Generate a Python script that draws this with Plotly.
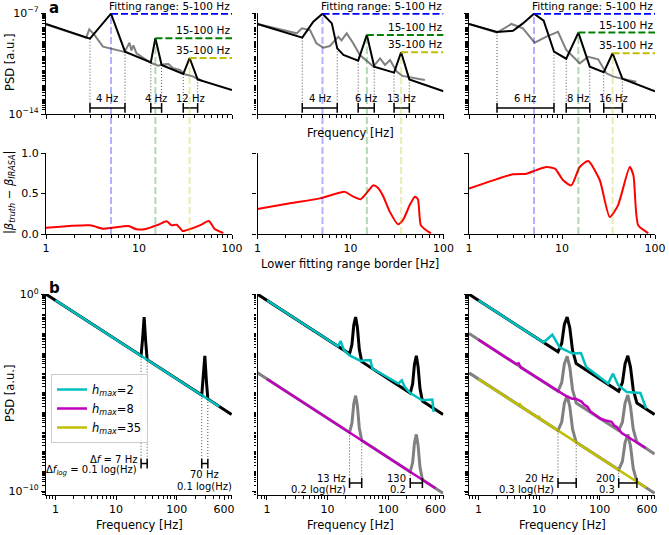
import math

import plotly.graph_objects as go
from plotly.subplots import make_subplots

FONT = "DejaVu Sans"
W, H = 669, 535

# ---- panel a, top row: PSD (black) and IRASA fractal estimate (gray), values are log10(PSD)
A_BLACK_F = [
    [1, 2.97, 5, 7.07, 13.4, 15, 17.5, 29.9, 35, 42.7, 100],
    [1, 3.03, 3.98, 5, 6.3, 7.2, 8.4, 12.1, 15, 18, 29.4, 35, 42.9, 100],
    [1, 2.0, 2.97, 3.8, 5, 6.35, 8.2, 11.1, 15, 19.9, 28.1, 35, 44.6, 100],
]
A_BLACK_P = [
    [-7.76, -8.78, -7.05, -9.68, -10.42, -8.75, -10.6, -11.23, -10.12, -11.6, -12.34],
    [-7.76, -8.71, -7.6, -7.05, -7.72, -9.45, -9.91, -10.3, -8.52, -10.72, -11.13, -9.72, -11.6, -12.42],
    [-7.76, -8.32, -8.23, -7.72, -7.05, -7.53, -9.68, -10.17, -8.36, -10.72, -11.11, -9.79, -11.55, -12.42],
]
A_GRAY_F = [
    [1, 2.7, 2.92, 3.3, 4.1, 5.1, 7.0, 7.9, 8.3, 8.7, 9.4, 13.4, 16, 18.5, 20.7, 23.3, 27.5, 31, 36.9, 41.5, 48],
    [1, 2.64, 3.0, 3.67, 4.3, 5.1, 6.0, 7.4, 8.0, 9.1, 10.7, 12.6, 15.3, 17.6, 20.8, 23.5, 26.6, 31.4, 36, 47.5, 63],
    [1, 2.0, 2.86, 3.8, 5.08, 6.8, 9.06, 11.1, 13.7, 15.5, 19.1, 24.5, 30, 36, 43.6, 63],
]
A_GRAY_P = [
    [-7.8, -8.72, -8.13, -8.5, -9.33, -9.5, -9.7, -9.06, -9.6, -9.25, -9.8, -10.45, -10.65, -10.55, -10.53,
     -10.83, -10.95, -11.25, -11.36, -11.52, -11.7],
    [-7.76, -8.41, -8.06, -8.18, -9.1, -9.4, -9.29, -8.64, -8.9, -8.41, -9.1, -9.91, -10.37, -10.72, -10.14,
     -10.6, -10.26, -11.06, -11.36, -11.52, -11.64],
    [-7.76, -8.36, -7.76, -8.06, -9.06, -8.64, -8.3, -9.56, -10.14, -10.49, -10.03, -10.21, -11.18, -11.41,
     -11.55, -11.76],
]
PEAK_F = [5, 15, 35]
PEAK_TOP = [[-7.05, -8.75, -10.12], [-7.05, -8.52, -9.72], [-7.05, -8.36, -9.79]]
FIT_TXT = ["Fitting range: 5-100 Hz", "15-100 Hz", "35-100 Hz"]
FIT_COLORS = ["#0000ff", "#008000", "#bfbf00"]
FIT_LIGHT = ["rgba(0,0,255,0.3)", "rgba(0,128,0,0.3)", "rgba(191,191,0,0.3)"]

BR_LO = [[2.97, 13.4, 29.9], [3.03, 12.1, 29.4], [2.0, 11.1, 28.1]]
BR_LO_P = [[-8.78, -10.42, -11.23], [-8.71, -10.3, -11.13], [-8.32, -10.17, -11.11]]
BR_HI = [[7.07, 17.5, 42.7], [7.2, 18, 42.9], [8.2, 19.9, 44.6]]
BR_HI_P = [[-9.68, -10.6, -11.6], [-9.45, -10.72, -11.6], [-9.68, -10.72, -11.55]]
BR_TXT = [["4 Hz", "4 Hz", "12 Hz"], ["4 Hz", "6 Hz", "13 Hz"], ["6 Hz", "8 Hz", "16 Hz"]]
BR_Y = -13.58
BR_TXT_Y = -12.95

# ---- panel a, middle row: |beta_truth - beta_IRASA| vs lower fitting border
RED_F = [
    [1, 2.97, 4.1, 5.2, 7.7, 9.4, 12.1, 16.1, 19.9, 22.4, 25.4, 29.4, 32, 45, 55.6, 58, 64.6, 80.7],
    [1, 2.24, 4.7, 8.7, 10.4, 12.9, 15.0, 17.5, 19.7, 22.4, 26.6, 32.4, 36.6, 43.5, 49.3, 53, 57, 64.7, 73.3],
    [1, 2.97, 4.14, 5.2, 6.8, 8.4, 10.3, 12.6, 15.5, 19.1, 25.4, 32.6, 40, 53.5, 58.6, 66, 84.6],
]
RED_V = [
    [0.078, 0.107, 0.066, 0.078, 0.099, 0.058, 0.066, 0.115, 0.156, 0.107, 0.115, 0.037, 0.045, 0.107, 0.16,
     0.148, 0.066, 0.012],
    [0.31, 0.38, 0.44, 0.52, 0.47, 0.43, 0.51, 0.60, 0.57, 0.47, 0.27, 0.12, 0.17, 0.36, 0.46, 0.43, 0.11,
     0.05, 0.01],
    [0.56, 0.737, 0.745, 0.786, 0.827, 0.807, 0.663, 0.6, 0.827, 0.9, 0.67, 0.21, 0.354, 0.827, 0.724, 0.107,
     0.012],
]

# ---- panel b: PSD with peaks at ~29 Hz and ~290 Hz, peak widths 0.1 / 0.2 / 0.3 log(Hz)
B_BLACK_F = [
    [0.7, 25.8, 27.3, 29.0, 30.7, 32.5, 258, 273, 290, 307, 325, 800],
    [0.7, 23.0, 25.2, 27.0, 29.0, 31.0, 33.3, 36.5, 230, 252, 270, 290, 310, 333, 365, 800],
    [0.7, 20.5, 23.6, 26.1, 29.0, 32.1, 35.6, 40.9, 205, 236, 261, 290, 321, 356, 409, 800],
]
B_BLACK_P = [
    [0.01, -3.12, -2.27, -1.15, -2.37, -3.32, -5.12, -4.27, -3.12, -4.37, -5.32, -6.11],
    [0.01, -3.02, -2.55, -1.56, -1.15, -1.68, -2.79, -3.42, -5.02, -4.55, -3.56, -3.12, -3.68, -4.79, -5.42,
     -6.11],
    [0.01, -2.92, -2.49, -1.53, -1.15, -1.71, -2.85, -3.52, -4.92, -4.49, -3.53, -3.12, -3.71, -4.85, -5.52,
     -6.11],
]
# offset copies of the spectrum (gray), one per IRASA run below the top one
B_GRAY = [
    [],
    [([0.7, 23.0, 25.2, 27.0, 29.0, 31.0, 33.3, 36.5, 230, 252, 270, 290, 310, 333, 365, 800],
      [-3.99, -7.02, -6.55, -5.56, -5.15, -5.68, -6.79, -7.42, -9.02, -8.55, -7.56, -7.12, -7.68, -8.79, -9.42,
       -10.11])],
    [([0.7, 20.5, 23.6, 26.1, 29.0, 32.1, 35.6, 40.9, 205, 236, 261, 290, 321, 356, 409, 800],
      [-1.99, -4.92, -4.49, -3.53, -3.15, -3.71, -4.85, -5.52, -6.92, -6.49, -5.53, -5.12, -5.71, -6.85, -7.52,
       -8.11]),
     ([0.7, 20.5, 23.6, 26.1, 29.0, 32.1, 35.6, 40.9, 205, 236, 261, 290, 321, 356, 409, 800],
      [-3.99, -6.92, -6.49, -5.53, -5.15, -5.71, -6.85, -7.52, -8.92, -8.49, -7.53, -7.12, -7.71, -8.85, -9.52,
       -10.11])],
]
# IRASA fractal estimates for h_max = 2 (cyan), 8 (magenta), 35 (yellow)
H_NAMES = ["<i>h</i><sub><i>max</i></sub>=2", "<i>h</i><sub><i>max</i></sub>=8",
           "<i>h</i><sub><i>max</i></sub>=35"]
H_COLORS = ["#00bfbf", "#bf00bf", "#bfbf00"]
B_IRASA = [
    [(0, [1, 500], [-0.3, -5.7])],
    [(0, [1, 14.8, 16.4, 18.6, 23, 35, 42, 51, 54.5, 147, 167, 186, 230, 360, 531, 560],
      [-0.3, -2.64, -2.37, -2.84, -3.1, -3.38, -3.35, -3.35, -3.77, -4.53, -4.37, -4.7, -5.02, -5.38, -5.35,
       -5.97]),
     (1, [1, 600], [-4.3, -9.86])],
    [(0, [1, 11.8, 16.5, 21.9, 35.6, 49, 59.7, 137, 165, 202, 279, 467, 580],
      [-0.3, -2.44, -2.05, -2.7, -3.01, -2.98, -3.69, -4.53, -4.03, -4.62, -4.96, -5.01, -5.8]),
     (1, [1, 4.2, 4.6, 5.0, 28, 35, 40, 45, 50, 55, 63, 70, 100, 121, 140, 156, 175, 190, 230, 570],
      [-2.3, -3.55, -3.5, -3.72, -5.17, -5.3, -5.3, -5.4, -5.45, -5.6, -5.72, -5.95, -6.3, -6.4, -6.45, -6.48,
       -6.68, -6.73, -7.05, -7.81]),
     (2, [1, 4.5, 4.8, 5.1, 9.5, 10, 10.5, 580],
      [-4.3, -5.61, -5.58, -5.72, -6.26, -6.22, -6.34, -9.83])],
]
# brackets marking peak widths: (lo, hi, log PSD where the dotted guide starts at lo, at hi)
B_BR = [
    [(25.8, 32.5, -3.12, -3.32), (258, 325, -5.12, -5.32)],
    [(23.0, 36.5, -7.02, -7.42), (230, 365, -9.02, -9.42)],
    [(20.5, 40.9, -6.92, -7.52), (205, 409, -8.92, -9.52)],
]
B_BR_Y = [-8.6, -9.59, -9.59]
# (x Hz, log PSD, text, anchor)
B_TXT = [
    [(25.8, -8.38, "Δ<i>f</i> = 7 Hz", "right"),
     (25.8, -8.93, "Δ<i>f</i><sub><i>log</i></sub> = 0.1 log(Hz)", "right"),
     (290, -9.14, "70 Hz", "center"),
     (290, -9.75, "0.1 log(Hz)", "center")],
    [(23.0, -9.34, "13 Hz", "right"), (23.0, -9.9, "0.2 log(Hz)", "right"),
     (230, -9.34, "130", "right"), (230, -9.9, "0.2", "right")],
    [(20.5, -9.34, "20 Hz", "right"), (20.5, -9.9, "0.3 log(Hz)", "right"),
     (205, -9.34, "200", "right"), (205, -9.9, "0.3", "right")],
]

A_XMAJOR = [1, 10, 100]
A_XMINOR = [m * 10 ** e for e in (0, 1) for m in range(2, 10)]
B_XMAJOR = [1, 10, 100, 600]
B_XMINOR = [m * 10 ** e for e in (-1, 0, 1, 2) for m in range(2, 10) if 0.7 <= m * 10 ** e <= 800]
A_YMINOR = [m * 10.0 ** e for e in range(-14, -7) for m in range(1, 10) if (e, m) != (-14, 1)]
B_YMINOR = [m * 10.0 ** e for e in range(-11, 0) for m in range(1, 10) if (e, m) != (-10, 1)]

# subplot frames in pixels: columns (left, right), rows (top, bottom)
COL_PX = [(46, 232), (257.5, 443.5), (469, 655)]
ROW_PX = [(13, 114), (153, 234), (294, 495)]


def px_x(x):
    return x / W


def px_y(y):
    return 1 - y / H


XDOM = [[px_x(a), px_x(b)] for a, b in COL_PX]
YDOM = [[px_y(b), px_y(a)] for a, b in ROW_PX]


def lg(vals):
    return [10 ** v for v in vals]


def axname(r, c):
    i = r * 3 + c + 1
    s = "" if i == 1 else str(i)
    return "x" + s, "y" + s


def bracket(lo, hi, y, row, col):
    fig.add_trace(go.Scatter(x=[lo, hi], y=[y, y], mode="lines+markers",
                             line=dict(color="black", width=1.5),
                             marker=dict(symbol="line-ns-open", size=7, line=dict(width=1.5, color="black")),
                             showlegend=False), row=row, col=col)


def guide(f, y0, y1, row, col):
    fig.add_trace(go.Scatter(x=[f, f], y=[y0, y1], mode="lines",
                             line=dict(color="black", width=0.7, dash="1px,2px"),
                             showlegend=False), row=row, col=col)


fig = make_subplots(rows=3, cols=3)
ann = []
shapes = []
tf = dict(family=FONT, size=10, color="black")
dash = "7px,3px"

for c in range(3):
    xa, ya = axname(0, c)
    # row 1
    fig.add_trace(go.Scatter(x=A_GRAY_F[c], y=lg(A_GRAY_P[c]), mode="lines",
                             line=dict(color="#808080", width=2), showlegend=False), row=1, col=c + 1)
    fig.add_trace(go.Scatter(x=A_BLACK_F[c], y=lg(A_BLACK_P[c]), mode="lines",
                             line=dict(color="black", width=2), showlegend=False), row=1, col=c + 1)
    for k in range(3):
        top = 10 ** PEAK_TOP[c][k]
        fig.add_trace(go.Scatter(x=[PEAK_F[k], 100], y=[top, top], mode="lines",
                                 line=dict(color=FIT_COLORS[k], width=2, dash=dash),
                                 showlegend=False), row=1, col=c + 1)
        ann.append(dict(xref=xa, yref=ya, x=2, y=PEAK_TOP[c][k], text=FIT_TXT[k], showarrow=False,
                        xanchor="right", yanchor="bottom", font=dict(family=FONT, size=10.5, color="black")))
        shapes.append(dict(type="line", xref=xa, yref=ya, x0=PEAK_F[k], x1=PEAK_F[k], y0=1e-14, y1=top,
                           line=dict(color=FIT_LIGHT[k], width=2, dash=dash)))
        shapes.append(dict(type="line", xref=xa, yref="paper", x0=PEAK_F[k], x1=PEAK_F[k],
                           y0=YDOM[1][0], y1=YDOM[0][0], line=dict(color=FIT_LIGHT[k], width=2, dash=dash)))
        lo, hi = BR_LO[c][k], BR_HI[c][k]
        guide(lo, 10 ** BR_LO_P[c][k], 10 ** BR_Y, 1, c + 1)
        guide(hi, 10 ** BR_HI_P[c][k], 10 ** BR_Y, 1, c + 1)
        bracket(lo, hi, 10 ** BR_Y, 1, c + 1)
        ann.append(dict(xref=xa, yref=ya, x=math.log10(lo * hi) / 2, y=BR_TXT_Y,
                        text=BR_TXT[c][k], showarrow=False, font=tf))

    # row 2
    fig.add_trace(go.Scatter(x=RED_F[c], y=RED_V[c], mode="lines",
                             line=dict(color="red", width=2, shape="spline", smoothing=0.6),
                             showlegend=False), row=2, col=c + 1)

    # row 3
    xb, yb = axname(2, c)
    fig.add_trace(go.Scatter(x=B_BLACK_F[c], y=lg(B_BLACK_P[c]), mode="lines",
                             line=dict(color="black", width=3), showlegend=False), row=3, col=c + 1)
    for gf, gp in B_GRAY[c]:
        fig.add_trace(go.Scatter(x=gf, y=lg(gp), mode="lines", line=dict(color="#808080", width=3),
                                 showlegend=False), row=3, col=c + 1)
    for h, hf, hp in B_IRASA[c]:
        fig.add_trace(go.Scatter(x=hf, y=lg(hp), mode="lines", name=H_NAMES[h],
                                 line=dict(color=H_COLORS[h], width=2.5), showlegend=(h == c)),
                      row=3, col=c + 1)
    for lo, hi, plo, phi in B_BR[c]:
        guide(lo, 10 ** plo, 10 ** B_BR_Y[c], 3, c + 1)
        guide(hi, 10 ** phi, 10 ** B_BR_Y[c], 3, c + 1)
        bracket(lo, hi, 10 ** B_BR_Y[c], 3, c + 1)
    for x, y, t, anc in B_TXT[c]:
        ann.append(dict(xref=xb, yref=yb, x=math.log10(x), y=y, text=t, showarrow=False, xanchor=anc,
                        xshift=-2 if anc == "right" else 0, font=tf))

axstyle = dict(showline=True, linecolor="black", linewidth=1.2, ticks="outside", ticklen=4, tickwidth=1.2,
               tickcolor="black", showgrid=False, zeroline=False, mirror=False, automargin=False,
               tickfont=dict(family=FONT, size=11, color="black"))
minor = dict(ticks="outside", ticklen=2.5, tickwidth=0.8, tickcolor="black", showgrid=False)

for c in range(3):
    first = c == 0
    # row 1
    fig.update_xaxes(axstyle, domain=XDOM[c], type="log", range=[0, 2], tickvals=A_XMAJOR,
                     showticklabels=False, minor=dict(minor, tickvals=A_XMINOR), row=1, col=c + 1)
    fig.update_yaxes(axstyle, domain=YDOM[0], type="log", range=[-14, -7], tickvals=[1e-14, 1e-7],
                     ticktext=["10<sup>−14</sup>", "10<sup>−7</sup>"],
                     showticklabels=first, minor=dict(minor, tickvals=A_YMINOR), row=1, col=c + 1)
    # row 2
    fig.update_xaxes(axstyle, domain=XDOM[c], type="log", range=[0, 2], tickvals=A_XMAJOR,
                     ticktext=["1", "10", "100"], minor=dict(minor, tickvals=A_XMINOR), row=2, col=c + 1)
    fig.update_yaxes(axstyle, domain=YDOM[1], range=[0, 1], tickvals=[0, 0.5, 1],
                     ticktext=["0.0", "0.5", "1.0"], showticklabels=first, row=2, col=c + 1)
    # row 3
    fig.update_xaxes(axstyle, domain=XDOM[c], type="log", range=[-0.155, 2.91], tickvals=B_XMAJOR,
                     ticktext=["1", "10", "100", "600"], minor=dict(minor, tickvals=B_XMINOR),
                     row=3, col=c + 1)
    fig.update_yaxes(axstyle, domain=YDOM[2], type="log", range=[-10.2, 0.02], tickvals=[1e-10, 1],
                     ticktext=["10<sup>−10</sup>", "10<sup>0</sup>"],
                     showticklabels=first, minor=dict(minor, tickvals=B_YMINOR), row=3, col=c + 1)


def label(x, y, text, size=11.5, angle=0, xanchor="center"):
    ann.append(dict(xref="paper", yref="paper", x=px_x(x), y=px_y(y), text=text, showarrow=False,
                    textangle=angle, xanchor=xanchor, yanchor="middle",
                    font=dict(family=FONT, size=size, color="black")))


label(10, 63, "PSD [a.u.]", angle=-90)
label(9, 193, "|<i>β</i><sub><i>truth</i></sub> − <i>β</i><sub><i>IRASA</i></sub>|", angle=-90)
label(10, 394, "PSD [a.u.]", angle=-90)
label(350, 133, "Frequency [Hz]")
label(350, 264, "Lower fitting range border [Hz]")
for xc in (139, 350, 562):
    label(xc, 525, "Frequency [Hz]")
label(47, 8, "<b>a</b>", size=15, xanchor="left")
label(47, 288, "<b>b</b>", size=15, xanchor="left")

fig.update_layout(
    width=W, height=H, margin=dict(l=0, r=0, t=0, b=0),
    plot_bgcolor="white", paper_bgcolor="white",
    font=dict(family=FONT, color="black"),
    annotations=ann, shapes=shapes,
    legend=dict(x=px_x(51), y=px_y(374), xanchor="left", yanchor="top", bordercolor="#cccccc",
                borderwidth=1, bgcolor="rgba(255,255,255,0.8)", font=dict(family=FONT, size=11.5),
                itemwidth=30, tracegroupgap=0),
)
# the page's default body margin would push the 669x535 figure 8 px off the window
fig.write_html("out.html", config={"displayModeBar": False},
               post_script="document.body.style.margin = '0';")
